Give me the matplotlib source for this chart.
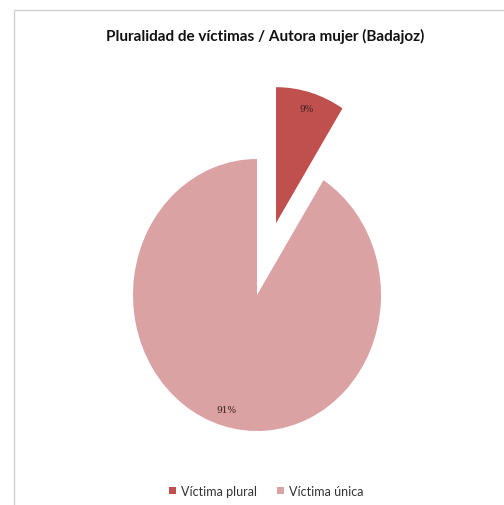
import matplotlib
matplotlib.use("Agg")
import matplotlib.pyplot as plt
from matplotlib.patches import Rectangle

title = "Pluralidad de víctimas / Autora mujer (Badajoz)"
labels = ["Víctima plural", "Víctima única"]
shares = [9, 91]
colors = ["#c0504d", "#dba2a3"]

plt.rcParams['font.family'] = ['Lato', 'DejaVu Sans']

W, H = 504, 506
fig = plt.figure(figsize=(W / 100, H / 100), dpi=100)

# light frame of the chart area
fig.add_artist(Rectangle((14 / W, -0.1), 1.2, 1 - 11 / H + 0.1, transform=fig.transFigure,
                         fill=False, edgecolor="#d0d0d0", linewidth=1.0))

fig.text(265 / W, 1 - 36 / H, title, ha="center", va="center",
         fontsize=11, fontweight="bold", color="#111111")

# pie is slightly taller than wide in the source, so axes aspect is left free
cx, cy, rx, ry = 257, 296, 124, 136
ax = fig.add_axes([(cx - rx) / W, 1 - (cy + ry) / H, 2 * rx / W, 2 * ry / H])
wedges, texts, autotexts = ax.pie(
    shares, colors=colors, startangle=90, counterclock=False,
    explode=[0.55, 0], autopct="%1.0f%%", pctdistance=0.88,
    wedgeprops=dict(linewidth=0, clip_on=False),
    textprops=dict(fontsize=6.5, color="#3a2020", family="DejaVu Serif"))
ax.set_aspect("auto")
ax.set_xlim(-1, 1)
ax.set_ylim(-1, 1)
ax.axis("off")

fig.legend(wedges, labels, loc="center", bbox_to_anchor=(266 / W, 1 - 492 / H),
           ncol=2, frameon=False, fontsize=9, handlelength=0.55, handleheight=0.55,
           handletextpad=0.4, columnspacing=1.6, labelcolor="#333333")

fig.savefig("out.png", dpi=100, facecolor="white")
